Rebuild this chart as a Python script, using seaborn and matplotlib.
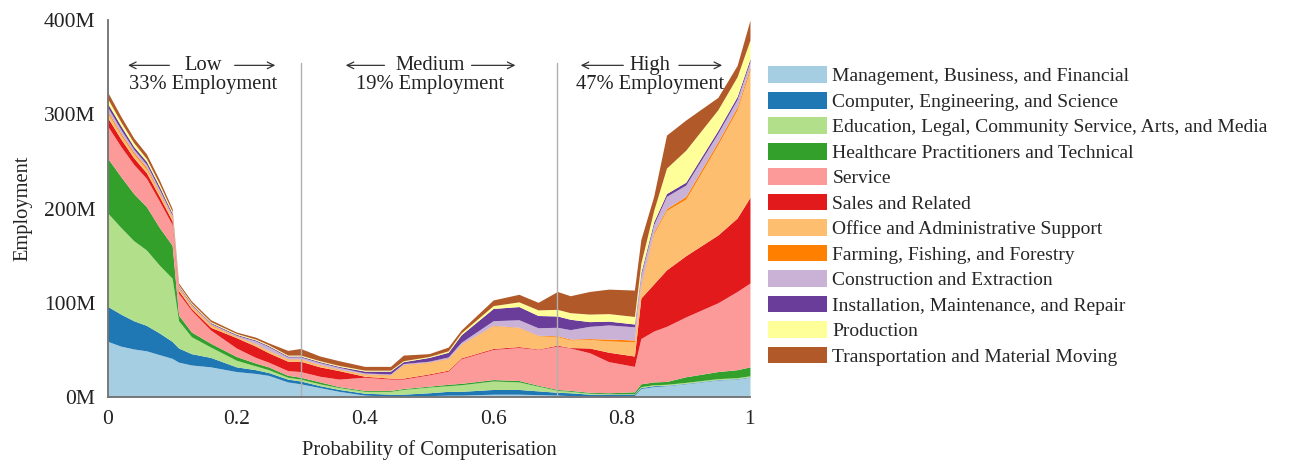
import numpy as np
import pandas as pd
import matplotlib
matplotlib.use("Agg")
import matplotlib.pyplot as plt
from matplotlib.ticker import FuncFormatter
import seaborn as sns

# probability of computerisation (x) and employment per occupation group (millions)
prob = [0.00, 0.02, 0.04, 0.06, 0.08, 0.10, 0.11, 0.13, 0.16, 0.20, 0.23, 0.25,
        0.28, 0.30, 0.33, 0.36, 0.40, 0.44, 0.46, 0.50, 0.53, 0.55, 0.60, 0.64,
        0.67, 0.70, 0.72, 0.75, 0.78, 0.82, 0.83, 0.85, 0.87, 0.90, 0.95, 0.98, 1.00]

categories = [
    "Management, Business, and Financial",
    "Computer, Engineering, and Science",
    "Education, Legal, Community Service, Arts, and Media",
    "Healthcare Practitioners and Technical",
    "Service",
    "Sales and Related",
    "Office and Administrative Support",
    "Farming, Fishing, and Forestry",
    "Construction and Extraction",
    "Installation, Maintenance, and Repair",
    "Production",
    "Transportation and Material Moving",
]

management = [59, 54, 51, 49, 45, 41, 37, 34, 32, 27, 25, 23, 16, 14, 10, 6, 2, 1, 1, 1.5, 2, 2, 3, 3,
              2.5, 2, 1.5, 1, 1, 1.5, 9, 11, 12, 14, 18, 19, 21]
computer = [37, 34, 30, 27, 23, 18, 15, 12, 10, 5, 4, 3, 3, 3, 2, 2, 2, 2, 2, 3, 4, 4, 5, 5,
            4, 3, 3, 2, 2, 1.5, 1, 1, 0.5, 0.5, 0.5, 0.5, 0.5]
education = [99, 92, 85, 80, 72, 67, 29, 18, 11, 7, 4, 3, 2, 2, 2, 2, 2, 3, 5, 6, 6, 7, 9, 8,
             5, 2, 1.5, 1, 0.5, 0.5, 1, 1, 1, 1, 1, 1, 1]
healthcare = [58, 54, 50, 46, 40, 35, 6, 5, 4, 4, 3, 3, 2, 2, 2, 1, 1, 1, 1, 1, 1.5, 1.5, 1.5, 1.5,
              1, 1, 1, 1, 1, 2, 3, 3, 3, 6, 7.5, 8.5, 9.5]
service = [34, 32, 31, 30, 28, 22, 23, 23, 14, 9, 6, 5, 5, 6, 6, 8, 14, 12, 10, 12, 14, 26, 32, 35,
           38, 46, 45, 42, 33, 27, 48, 54, 58.5, 63.5, 73, 83, 89]
sales = [9, 8, 7, 6, 5, 4, 3, 2, 3, 11, 12, 10, 10, 11, 10, 9, 1, 1, 1, 1, 1, 1, 1, 1,
         0.5, 1, 0.5, 5, 10, 11, 43, 50, 60, 65, 72, 78, 91]
office = [5, 4, 4, 4, 3, 3, 2, 2, 2, 1, 2, 2, 2, 2, 2, 1, 2, 3, 14, 12, 12, 14, 24, 20,
          14, 9, 8, 9, 12, 15, 12, 53, 63, 60, 96, 115, 135]
farming = [2, 2, 2, 2, 1.5, 1, 1, 1, 1, 0.5, 0.5, 0.5, 0.5, 0.5, 0.5, 0.5, 0.5, 0.5, 0.5, 0.5, 0.5, 0.5, 0.5, 0.5,
           0.5, 1, 1, 1, 2, 2, 2, 2, 2, 3, 3, 3, 3]
construction = [4, 4, 3, 3, 3, 2, 1, 1, 1, 1, 3, 4, 2, 2, 2, 2, 1, 1, 1, 1, 1.5, 2, 5, 8,
                8, 9, 10, 13, 15, 14, 10, 8, 13, 12, 9, 8, 6]
installation = [4, 4, 3, 3, 3, 2, 1, 1, 1, 1, 1, 1, 1, 1, 1, 1, 2, 3, 2, 4, 5, 8, 13, 14,
                13, 12, 11, 5, 4, 3, 3, 3, 3, 3, 3, 3, 3]
production = [5, 4, 4, 3, 3, 2, 1, 1, 1, 1, 1, 1, 1, 1, 1, 1, 1, 1, 1, 1, 1.5, 2, 3, 5,
              6, 7, 7, 8, 8, 8, 10, 12, 27, 34, 22, 21, 20]
transport = [7, 6, 5, 5, 4, 3, 2, 2, 2, 1.5, 2, 2, 5, 7, 5, 5, 4, 4, 6, 3, 4, 3, 6, 8,
             8, 19, 18, 24, 26, 28, 25, 15, 35, 32, 13, 12, 21]

df = pd.DataFrame({
    categories[0]: management, categories[1]: computer, categories[2]: education,
    categories[3]: healthcare, categories[4]: service, categories[5]: sales,
    categories[6]: office, categories[7]: farming, categories[8]: construction,
    categories[9]: installation, categories[10]: production, categories[11]: transport,
}, index=prob)

sns.set_theme(style="white")
plt.rcParams["font.family"] = ["Liberation Serif", "DejaVu Serif"]

colors = sns.color_palette("Paired", 12)
txt = "#222222"

fig = plt.figure(figsize=(13.1, 4.68), dpi=100)
ax = fig.add_axes([0.0824, 0.1517, 0.4901, 0.8053])

ax.stackplot(df.index, [df[c] for c in categories], labels=categories,
             colors=colors, linewidth=0)

ax.set_xlim(0, 1)
ax.set_ylim(0, 400)
ax.set_xticks([0, 0.2, 0.4, 0.6, 0.8, 1.0])
ax.set_xticklabels(["0", "0.2", "0.4", "0.6", "0.8", "1"])
ax.set_yticks([0, 100, 200, 300, 400])
ax.yaxis.set_major_formatter(FuncFormatter(lambda v, p: f"{int(v)}M"))

for side in ["top", "right"]:
    ax.spines[side].set_visible(False)
for side in ["left", "bottom"]:
    ax.spines[side].set_color("#707070")
    ax.spines[side].set_linewidth(1.3)
ax.tick_params(axis="both", which="major", direction="out", length=5, width=1,
               color="#707070", labelsize=15.5, labelcolor=txt, pad=4)

ax.set_xlabel("Probability of Computerisation", fontsize=14.8, color=txt, labelpad=8)
ax.set_ylabel("Employment", fontsize=14.8, color=txt, labelpad=8)

# region boundaries
for xv in [0.3, 0.7]:
    ax.plot([xv, xv], [0, 355], color="#b0b0b0", linewidth=1)

# region annotations
regions = [("Low", "33% Employment", 0.148, 0.10, 0.027, 0.193, 0.265),
           ("Medium", "19% Employment", 0.502, 0.435, 0.366, 0.562, 0.639),
           ("High", "47% Employment", 0.844, 0.807, 0.732, 0.885, 0.961)]
for name, share, cx, l0, l1, r0, r1 in regions:
    ax.text(cx, 352, name, ha="center", va="center", fontsize=14.8, color=txt)
    ax.text(cx, 332, share, ha="center", va="center", fontsize=14.8, color=txt)
    arrow = dict(arrowstyle="->", color="#333333", lw=0.9)
    ax.annotate("", xy=(l1, 352), xytext=(l0, 352), arrowprops=arrow)
    ax.annotate("", xy=(r1, 352), xytext=(r0, 352), arrowprops=arrow)

handles, labels = ax.get_legend_handles_labels()
fig.legend(handles, labels, loc="upper left", bbox_to_anchor=(0.5805, 0.875),
           frameon=False, fontsize=14, handlelength=3.0, handleheight=0.95,
           labelspacing=0.33, handletextpad=0.3, borderaxespad=0)

fig.savefig("out.png", dpi=100, facecolor="white")
